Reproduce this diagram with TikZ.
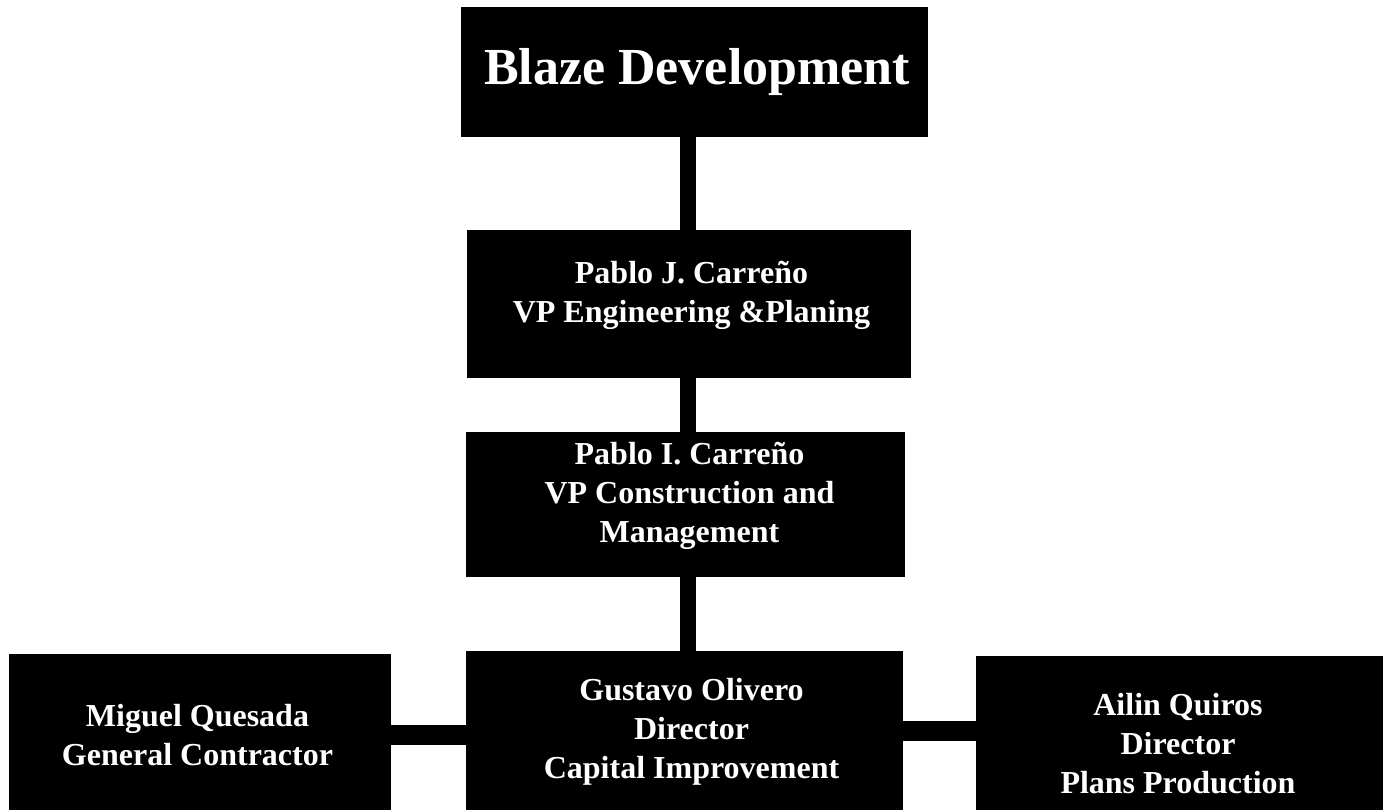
\documentclass[tikz,border=0pt]{standalone}
\usepackage{fontspec}
\setmainfont{Liberation Serif}
\usepackage{tikz}

\tikzset{
  box/.style={fill=black, draw=none, inner sep=0pt},
  txt/.style={text=white, font=\fontsize{16}{19.5}\selectfont\bfseries, align=center, inner sep=0pt},
  link/.style={draw=black, line width=8pt},
  hlink/.style={draw=black, line width=10pt}
}

\begin{document}
\begin{tikzpicture}[x=0.5pt,y=-0.5pt]
\useasboundingbox (0,0) rectangle (1383,810);
% boxes
\node[box, minimum width=233.5pt, minimum height=65pt] (top) at (694.5,72) {};
\node[box, minimum width=222pt, minimum height=74pt] (vpe) at (689,304) {};
\node[box, minimum width=219.5pt, minimum height=72.5pt] (vpc) at (685.5,504.5) {};
\node[box, minimum width=218.5pt, minimum height=79.5pt] (dir) at (684.5,730.5) {};
\node[box, minimum width=191pt, minimum height=78pt] (gc) at (200,732) {};
\node[box, minimum width=203.5pt, minimum height=77pt] (pp) at (1179.5,733) {};
% texts
\node[txt, font=\fontsize{26}{30}\selectfont\bfseries, anchor=base] (toptxt) at (697,84) {Blaze Development};
\node[txt] (vpetxt) at (691.5,295) {Pablo J. Carreño\\ VP Engineering \&Planing};
\node[txt] (vpctxt) at (689.5,495.5) {Pablo I. Carreño\\ VP Construction and\\ Management};
\node[txt] (dirtxt) at (691.5,731.5) {Gustavo Olivero\\ Director\\ Capital Improvement};
\node[txt] (gctxt) at (197.5,735) {Miguel Quesada\\ General Contractor};
\node[txt] (pptxt) at (1178,743.5) {Ailin Quiros\\ Director\\ Plans Production};
% connectors
\coordinate (spine) at (688,0);
\draw[link] (top.south -| spine) -- (vpe.north -| spine);
\draw[link] (vpe.south -| spine) -- (vpc.north -| spine);
\draw[link] (vpc.south -| spine) -- (dir.north -| spine);
\draw[hlink] ([yshift=-1.5pt]gc.east) -- ([yshift=-1.5pt]gc.east -| dir.west);
\draw[hlink] (dir.east) -- (dir.east -| pp.west);
\end{tikzpicture}
\end{document}
